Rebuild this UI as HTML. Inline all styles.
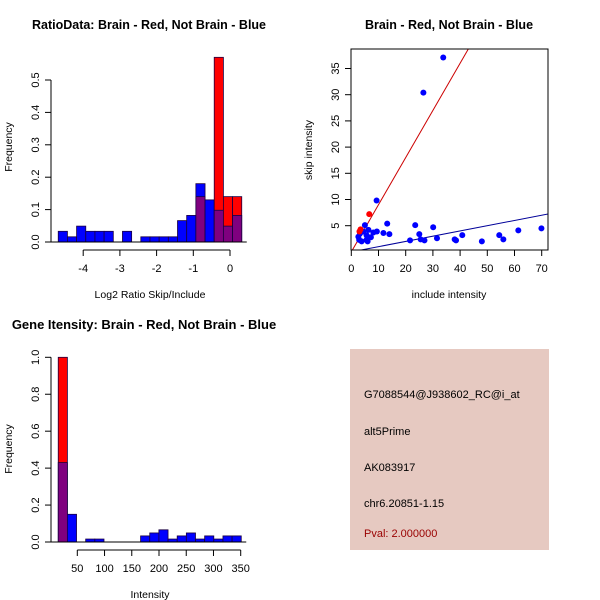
<!DOCTYPE html>
<html><head><meta charset="utf-8"><style>
body{margin:0;background:#fff;}
svg{display:block;font-family:"Liberation Sans",sans-serif;}
</style></head><body>
<svg id="c" width="600" height="600"></svg>
<script>
// ---- Panel 1: log2 ratio histogram ----
const ratioEdgeStart = -4.68;
const ratioBinWidth = 0.25;
const ratioBlue = [0.033,0.016,0.049,0.033,0.033,0.033,0,0.033,0,0.016,0.016,0.016,0.016,0.066,0.082,0.18,0.13,0.098,0.049,0.082];
const ratioRed  = [0,0,0,0,0,0,0,0,0,0,0,0,0,0,0,0.14,0,0.57,0.14,0.14];
const ratioXTicks = [-4,-3,-2,-1,0];
const ratioYTicks = [0,0.1,0.2,0.3,0.4,0.5];
// ---- Panel 2: scatter ----
const blueX = [33.8,26.5,9.3,13.2,23.5,30.1,61.4,69.9,11.8,14.0,25.0,40.8,54.4,9.4,8.1,21.6,25.5,26.9,31.5,38.0,38.5,48.0,55.9,7.2,2.6,3.2,3.8,5.0,5.6,6.3,5.6,4.4,6.0,2.9];
const blueY = [37.1,30.4,9.8,5.4,5.1,4.7,4.1,4.5,3.6,3.4,3.4,3.2,3.2,3.9,3.7,2.2,2.4,2.2,2.6,2.4,2.2,2.0,2.4,2.8,2.9,3.5,2.0,5.1,2.3,4.2,3.2,3.9,2.0,2.3];
const redX = [6.6,3.4,3.0];
const redY = [7.2,4.3,3.9];
const redLine = [0.9,0];   // slope, intercept
const blueLine = [0.1,0];
const scatXTicks = [0,10,20,30,40,50,60,70];
const scatYTicks = [5,10,15,20,25,30,35];
// ---- Panel 3: intensity histogram ----
const intEdgeStart = 15;
const intBinWidth = 16.8;
const intBlue = [0.43,0.15,0,0.016,0.016,0,0,0,0,0.033,0.049,0.066,0.016,0.033,0.049,0.016,0.033,0.016,0.033,0.033];
const intRed  = [1.0,0,0,0,0,0,0,0,0,0,0,0,0,0,0,0,0,0,0,0];
const intXTicks = [50,100,150,200,250,300,350];
const intYTicks = [0,0.2,0.4,0.6,0.8,1.0];

const NS="http://www.w3.org/2000/svg";
const svg=document.getElementById('c');
function el(tag,attrs,parent){const e=document.createElementNS(NS,tag);for(const k in attrs)e.setAttribute(k,attrs[k]);(parent||svg).appendChild(e);return e;}
function txt(s,x,y,attrs,parent){const t=el('text',Object.assign({x:x,y:y,'font-size':11,'text-anchor':'middle',fill:'#000'},attrs||{}),parent);t.textContent=s;return t;}

function histogram(name,g,blue,red,edge0,bw,sx,sy,xticks,yticks,xAxisY,yAxisX,fmt){
  for(let i=0;i<blue.length;i++){
    const x0=sx(edge0+i*bw),x1=sx(edge0+(i+1)*bw);
    const b=blue[i],r=red[i],m=Math.min(b,r),M=Math.max(b,r);
    if(M<=0)continue;
    const col=b>=r?'#0000ff':'#ff0000';
    const bar=el('rect',{x:x0,y:sy(M),width:x1-x0,height:sy(0)-sy(M),fill:col,stroke:'#1a0040','stroke-width':0.8},g);
    
    
    if(m>0){
      const ov=el('rect',{x:x0,y:sy(m),width:x1-x0,height:sy(0)-sy(m),fill:'#7f007f',stroke:'#1a0040','stroke-width':0.8},g);
      
      
    }
  }
  el('line',{x1:sx(edge0)-8,x2:sx(edge0+blue.length*bw)+5,y1:sy(0),y2:sy(0),stroke:'#000'},g);
  el('line',{x1:sx(xticks[0]),x2:sx(xticks[xticks.length-1]),y1:xAxisY,y2:xAxisY,stroke:'#000'},g);
  xticks.forEach(v=>{el('line',{x1:sx(v),x2:sx(v),y1:xAxisY,y2:xAxisY+6,stroke:'#000'},g);txt(String(v),sx(v),xAxisY+22,{},g);});
  el('line',{x1:yAxisX,x2:yAxisX,y1:sy(yticks[0]),y2:sy(yticks[yticks.length-1]),stroke:'#000'},g);
  yticks.forEach(v=>{el('line',{x1:yAxisX,x2:yAxisX-6,y1:sy(v),y2:sy(v),stroke:'#000'},g);
    const yy=sy(v);txt(fmt(v),yAxisX-12,yy,{transform:`rotate(-90 ${yAxisX-12} ${yy})`},g);});
}

// Panel 1
const g1=el('g',{});
const sx1=v=>230+v*36.7, sy1=v=>242-v*324;
histogram('ratio',g1,ratioBlue,ratioRed,ratioEdgeStart,ratioBinWidth,sx1,sy1,ratioXTicks,ratioYTicks,250,51,v=>v.toFixed(1));
txt('RatioData: Brain - Red, Not Brain - Blue',149,29,{'font-weight':'bold','font-size':12.5},g1);
txt('Log2 Ratio Skip/Include',150,298,{'font-size':10.5},g1);
txt('Frequency',12,147,{'font-size':10.5,transform:'rotate(-90 12 147)'},g1);

// Panel 2
const g2=el('g',{});
const sx2=v=>351.3+v*2.72, sy2=v=>251.9-v*5.24;
const defs=el('defs',{},g2);const cp=el('clipPath',{id:'clip2'},defs);el('rect',{x:351,y:49,width:197,height:201},cp);
const lg=el('g',{'clip-path':'url(#clip2)'},g2);
[[redLine,'#cc0000','red-fit-line'],[blueLine,'#000099','blue-fit-line']].forEach(([p,c,n])=>{
  const l=el('line',{x1:sx2(0),y1:sy2(p[1]),x2:sx2(80),y2:sy2(p[1]+p[0]*80),stroke:c,'stroke-width':1},lg);
  
});
blueX.forEach((x,i)=>{const c=el('circle',{cx:sx2(x),cy:sy2(blueY[i]),r:3,fill:'#0000ff'},lg);
  });
redX.forEach((x,i)=>{const c=el('circle',{cx:sx2(x),cy:sy2(redY[i]),r:3,fill:'#ff0000'},lg);
  });
el('rect',{x:351,y:49,width:197,height:201,fill:'none',stroke:'#000'},g2);
scatXTicks.forEach(v=>{el('line',{x1:sx2(v),x2:sx2(v),y1:250,y2:256,stroke:'#000'},g2);txt(String(v),sx2(v),272,{},g2);});
scatYTicks.forEach(v=>{el('line',{x1:351,x2:345,y1:sy2(v),y2:sy2(v),stroke:'#000'},g2);txt(String(v),339,sy2(v),{transform:`rotate(-90 339 ${sy2(v)})`},g2);});
txt('Brain - Red, Not Brain - Blue',449,29,{'font-weight':'bold','font-size':12.5},g2);
txt('include intensity',449,298,{'font-size':10.5},g2);
txt('skip intensity',312,150,{'font-size':10.5,transform:'rotate(-90 312 150)'},g2);

// Panel 3
const g3=el('g',{});
const sx3=v=>77.3+(v-50)*0.5447, sy3=v=>542-v*184.7;
histogram('intensity',g3,intBlue,intRed,intEdgeStart,intBinWidth,sx3,sy3,intXTicks,intYTicks,550,51,v=>v.toFixed(1));
txt('Gene Itensity: Brain - Red, Not Brain - Blue',144,329,{'font-weight':'bold','font-size':13},g3);
txt('Intensity',150,598,{'font-size':10.5},g3);
txt('Frequency',12,449,{'font-size':10.5,transform:'rotate(-90 12 449)'},g3);

// Panel 4: info box
const g4=el('g',{});
el('rect',{x:350,y:349,width:199,height:201,fill:'#e6c9c1'},g4);
[['G7088544@J938602_RC@i_at',398,'probe-id'],['alt5Prime',435,'event-type'],['AK083917',471,'accession'],['chr6.20851-1.15',507,'location']].forEach(([s,y,n])=>{
  const t=txt(s,364,y,{'text-anchor':'start','font-size':11},g4);});
const pv=txt('Pval: 2.000000',364,537,{'text-anchor':'start','font-size':11,fill:'#990000'},g4);

</script>
</body></html>
